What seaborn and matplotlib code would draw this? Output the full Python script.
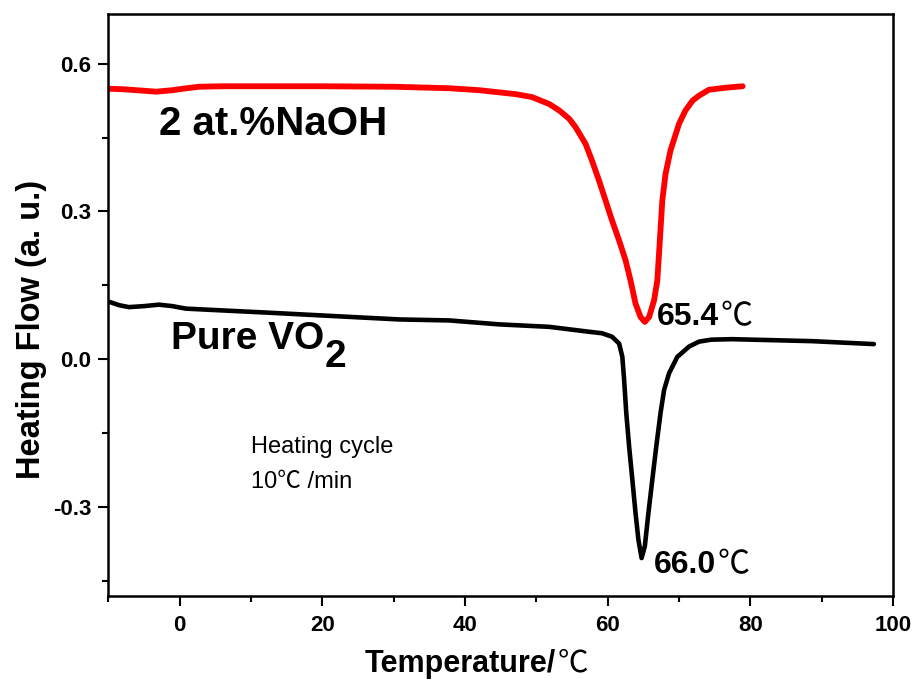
import numpy as np
import pandas as pd
import matplotlib
matplotlib.use("Agg")
import matplotlib.pyplot as plt
from matplotlib.ticker import MultipleLocator, FixedLocator
import seaborn as sns

# ---- data ----
naoh_x = [-10, -8, -6, -3.3, -1, 1, 2.7, 6, 10, 20, 30, 37.8, 42, 47.1, 49.4,
          51.8, 53.2, 54.6, 55.5, 56.9, 57.8, 58.8, 59.7, 60.6, 61.6, 62.5, 63.2,
          63.9, 64.6, 65.2, 65.8, 66.5, 66.95, 67.3, 67.65, 68.1, 68.8, 70.0,
          70.9, 71.9, 72.8, 74.2, 76.5, 78.9]
naoh_y = [0.549, 0.548, 0.546, 0.543, 0.546, 0.550, 0.553, 0.554, 0.554, 0.554,
          0.553, 0.550, 0.546, 0.538, 0.532, 0.518, 0.505, 0.488, 0.471, 0.437,
          0.403, 0.362, 0.322, 0.282, 0.241, 0.201, 0.160, 0.113, 0.086, 0.076,
          0.086, 0.120, 0.160, 0.240, 0.322, 0.376, 0.424, 0.478, 0.505, 0.525,
          0.535, 0.547, 0.551, 0.554]

vo2_x = [-9.9, -8.5, -7.1, -5.0, -2.9, -1.0, 0.85, 5.0, 12.1, 21.4, 30.8, 37.8,
         44.8, 51.8, 57.4, 59.2, 60.6, 61.6, 62.05, 62.3, 62.6, 63.0, 63.45, 63.9,
         64.3, 64.75, 65.2, 65.7, 66.25, 66.8, 67.4, 67.9, 68.6, 69.75, 71.4,
         72.8, 74.5, 77.4, 88.6, 97.3]
vo2_y = [0.117, 0.110, 0.106, 0.108, 0.111, 0.108, 0.103, 0.100, 0.095, 0.088,
         0.081, 0.079, 0.071, 0.066, 0.056, 0.053, 0.046, 0.032, 0.005, -0.042,
         -0.109, -0.177, -0.244, -0.312, -0.366, -0.403, -0.379, -0.312, -0.244,
         -0.177, -0.109, -0.062, -0.028, 0.005, 0.026, 0.036, 0.040, 0.041,
         0.037, 0.031]

x_ticks = [0, 20, 40, 60, 80, 100]
y_ticks = [-0.3, 0.0, 0.3, 0.6]
y_tick_labels = ["-0.3", "0.0", "0.3", "0.6"]

df = pd.concat([
    pd.DataFrame({"T": naoh_x, "H": naoh_y, "s": "2 at.%NaOH"}),
    pd.DataFrame({"T": vo2_x, "H": vo2_y, "s": "Pure VO2"}),
])

sns.set_theme(style="ticks")
plt.rcParams["font.family"] = ["Liberation Sans", "Noto Sans CJK SC", "DejaVu Sans"]
plt.rcParams["text.color"] = "black"
plt.rcParams["axes.labelcolor"] = "black"
plt.rcParams["xtick.color"] = "black"
plt.rcParams["ytick.color"] = "black"

fig = plt.figure(figsize=(9.17, 6.8), dpi=100)
ax = fig.add_axes([0.118, 0.1235, 0.856, 0.8555])

sns.lineplot(data=df, x="T", y="H", hue="s",
             palette={"2 at.%NaOH": "#ff0000", "Pure VO2": "#000000"},
             estimator=None, sort=False, legend=False, ax=ax)
ax.lines[0].set_linewidth(4.2)
ax.lines[1].set_linewidth(3.3)
for ln in ax.lines:
    ln.set_solid_capstyle("round")
    ln.set_solid_joinstyle("round")

ax.set_xlim(-10, 100)
ax.set_ylim(-0.48, 0.70)
ax.xaxis.set_major_locator(FixedLocator(x_ticks))
ax.xaxis.set_minor_locator(MultipleLocator(10))
ax.yaxis.set_major_locator(FixedLocator(y_ticks))
ax.set_yticklabels(y_tick_labels)
ax.yaxis.set_minor_locator(FixedLocator([-0.45, -0.15, 0.15, 0.45]))

for sp in ax.spines.values():
    sp.set_linewidth(1.8)
    sp.set_color("black")

ax.tick_params(axis="both", which="major", direction="out", length=7, width=1.5,
               labelsize=16, colors="black", labelcolor="black")
ax.tick_params(axis="x", which="major", pad=7)
ax.tick_params(axis="y", which="major", pad=5)
ax.tick_params(axis="both", which="minor", direction="out", length=4, width=1.5)
for lab in ax.get_xticklabels() + ax.get_yticklabels():
    lab.set_fontweight("bold")
    lab.set_fontsize(16)

# axis labels
ax.set_ylabel("Heating Flow (a. u.)", fontsize=23.5, fontweight="bold", color="black")
ax.yaxis.set_label_coords(-0.078, 0.459)
ax.set_xlabel("")
xl = fig.text(0.398, 0.012, "Temperature/", fontsize=22, fontweight="bold",
              ha="left", va="baseline")
ax.annotate("℃", xy=(1, 0), xycoords=xl, xytext=(1, 0), textcoords="offset points",
            ha="left", va="bottom", fontsize=22, family=["Noto Sans CJK SC", "DejaVu Sans"])

# annotations
ax.text(-2.9, 0.456, "2 at.%NaOH", fontsize=29, fontweight="bold", ha="left", va="baseline")
pv = ax.text(-1.2, 0.022, "Pure VO", fontsize=28, fontweight="bold", ha="left", va="baseline")
ax.annotate("2", xy=(1, 0), xycoords=pv, xytext=(0, -13), textcoords="offset points",
            ha="left", va="bottom", fontsize=28, fontweight="bold")

t1 = ax.text(66.9, 0.069, "65.4", fontsize=23, fontweight="bold", ha="left", va="baseline")
ax.annotate("℃", xy=(1, 0), xycoords=t1, xytext=(1, 0), textcoords="offset points",
            ha="left", va="bottom", fontsize=23, family=["Noto Sans CJK SC", "DejaVu Sans"])
t2 = ax.text(66.5, -0.433, "66.0", fontsize=23, fontweight="bold", ha="left", va="baseline")
ax.annotate("℃", xy=(1, 0), xycoords=t2, xytext=(1, 0), textcoords="offset points",
            ha="left", va="bottom", fontsize=23, family=["Noto Sans CJK SC", "DejaVu Sans"])

ax.text(10.0, -0.190, "Heating cycle", fontsize=17, ha="left", va="baseline")
ax.text(10.0, -0.261, "10℃ /min", fontsize=17, ha="left", va="baseline",
        family=["Liberation Sans", "Noto Sans CJK SC", "DejaVu Sans"])

fig.savefig("out.png", dpi=100)
